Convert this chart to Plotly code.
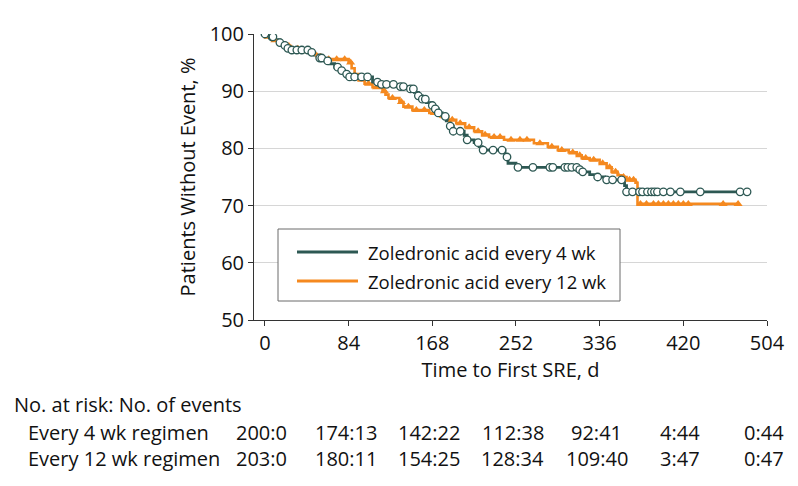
import numpy as np
import plotly.graph_objects as go

# ---------------- data ----------------
x_ticks = [0, 84, 168, 252, 336, 420, 504]
y_ticks = [50, 60, 70, 80, 90, 100]

# Every 4 wk: Kaplan-Meier step curve (day, % without event)
q4_time = [0, 6, 10, 15, 19, 23, 27, 45, 50, 55, 60, 65, 70, 75, 80, 85, 108, 116, 133,
           145, 150, 154, 158, 162, 166, 170, 174, 178, 182, 186, 189, 200, 203, 210,
           215, 218, 241, 244, 252, 314, 318, 326, 333, 341, 359, 361, 363, 484]
q4_surv = [100, 99.5, 99.0, 98.5, 98.0, 97.5, 97.2, 96.8, 96.3, 95.8, 95.3, 94.8, 94.2,
           93.6, 93.0, 92.5, 91.6, 91.2, 90.8, 90.4, 89.8, 89.2, 88.6, 88.0, 87.5, 86.9,
           86.2, 85.6, 84.8, 83.9, 83.0, 82.3, 81.5, 81.0, 80.3, 79.7, 78.5, 77.4, 76.7,
           76.3, 75.9, 75.4, 75.0, 74.5, 74.0, 73.5, 72.4, 72.4]
q4_censor = [0, 7, 8, 15, 20, 23, 27, 32, 37, 43, 47, 55, 57, 63, 73, 77, 82, 85, 90, 97,
             103, 113, 117, 122, 129, 136, 139, 146, 149, 154, 158, 161, 168, 171, 174,
             181, 186, 189, 196, 203, 214, 219, 229, 238, 243, 254, 269, 286, 289, 301,
             304, 308, 313, 316, 319, 334, 343, 349, 358, 363, 369, 376, 379, 384, 388,
             391, 394, 400, 407, 417, 437, 477, 484]

# Every 12 wk
q12_time = [0, 2, 8, 14, 20, 26, 40, 46, 52, 58, 84, 87, 90, 94, 100, 108, 118, 121, 124,
            135, 139, 148, 165, 176, 184, 192, 201, 210, 218, 225, 240, 270, 284, 294,
            305, 313, 318, 326, 336, 343, 348, 354, 358, 363, 372, 374, 475]
q12_surv = [100, 99.5, 98.9, 98.4, 97.9, 97.4, 97.0, 96.5, 96.0, 95.6, 95.0, 94.0, 93.0,
            92.0, 91.3, 90.7, 90.0, 89.4, 88.8, 88.1, 87.3, 86.7, 86.2, 85.6, 85.0, 84.4,
            83.7, 83.0, 82.4, 82.0, 81.5, 80.9, 80.3, 79.7, 79.3, 78.8, 78.3, 78.0, 77.4,
            76.7, 75.9, 75.3, 75.0, 74.5, 74.0, 70.3, 70.3]
q12_censor = [3, 10, 17, 24, 33, 44, 50, 56, 64, 72, 80, 86, 97, 104, 112, 120, 128, 137,
              144, 152, 160, 170, 180, 188, 196, 205, 214, 221, 230, 236, 247, 256, 263,
              276, 288, 298, 309, 316, 322, 330, 339, 346, 352, 360, 366, 370, 377, 383,
              390, 395, 400, 405, 410, 415, 420, 425, 460, 475]

risk_label_q4 = "Every 4 wk regimen"
risk_label_q12 = "Every 12 wk regimen"
risk_q4 = ["200:0", "174:13", "142:22", "112:38", "92:41", "4:44", "0:44"]
risk_q12 = ["203:0", "180:11", "154:25", "128:34", "109:40", "3:47", "0:47"]

name_q4 = "Zoledronic acid every 4 wk"
name_q12 = "Zoledronic acid every 12 wk"

# ---------------- style ----------------
TEAL = "#2d5853"
ORANGE = "#f5891f"
FONT = "Open Sans"
FS = 20
FS_LEG = 18.5
OFF = 8                      # page body margin
W, H = 798 - OFF, 486 - OFF  # figure size so it fits the window
L, R, T, B = 254, 767, 34, 320  # plot area in page pixels


def px(x):
    return (x - L) / (R - L)


def py(y):
    return (B - y) / (B - T)


def step_value(times, surv, t):
    i = np.searchsorted(np.asarray(times), t, side="right") - 1
    return np.asarray(surv)[np.clip(i, 0, len(surv) - 1)]


fig = go.Figure()
fig.add_trace(go.Scatter(x=q12_time, y=q12_surv, mode="lines", line_shape="hv",
                         line=dict(color=ORANGE, width=2.6), showlegend=False,
                         name=name_q12))
fig.add_trace(go.Scatter(x=q4_time, y=q4_surv, mode="lines", line_shape="hv",
                         line=dict(color=TEAL, width=2.8), showlegend=False,
                         name=name_q4))
fig.add_trace(go.Scatter(x=q12_censor, y=step_value(q12_time, q12_surv, q12_censor),
                         mode="markers", showlegend=False, name=name_q12 + " (censored)",
                         marker=dict(symbol="triangle-up", size=8, color=ORANGE,
                                     line=dict(width=0))))
fig.add_trace(go.Scatter(x=q4_censor, y=step_value(q4_time, q4_surv, q4_censor),
                         mode="markers", showlegend=False, name=name_q4 + " (censored)",
                         marker=dict(symbol="circle", size=7.5, color="white",
                                     line=dict(color=TEAL, width=1.3))))

shapes = []
annotations = []
tfont = dict(family=FONT, size=FS, color="#111")
lfont = dict(family=FONT, size=FS_LEG, color="#111")

# legend box (drawn manually)
shapes.append(dict(type="rect", xref="paper", yref="paper",
                   x0=px(278), x1=px(620), y0=py(301), y1=py(229),
                   line=dict(color="#6b6b6b", width=1), fillcolor="white", layer="above"))
for yy, col, txt in [(252, TEAL, name_q4), (281, ORANGE, name_q12)]:
    shapes.append(dict(type="line", xref="paper", yref="paper",
                       x0=px(297), x1=px(358), y0=py(yy), y1=py(yy),
                       line=dict(color=col, width=3), layer="above"))
    annotations.append(dict(xref="paper", yref="paper", x=px(366), y=py(yy),
                            text=txt, showarrow=False, xanchor="left", yanchor="middle",
                            font=lfont))

# at-risk table
annotations.append(dict(xref="paper", yref="paper", x=px(12), y=py(405),
                        text="No. at risk: No. of events", showarrow=False,
                        xanchor="left", yanchor="middle", font=tfont))
for yy, lab, vals in [(432, risk_label_q4, risk_q4), (458, risk_label_q12, risk_q12)]:
    annotations.append(dict(xref="paper", yref="paper", x=px(26), y=py(yy),
                            text=lab, showarrow=False, xanchor="left", yanchor="middle",
                            font=tfont))
    for t, v in zip(x_ticks, vals):
        annotations.append(dict(xref="x", yref="paper", x=t, y=py(yy), text=v,
                                showarrow=False, xanchor="center", yanchor="middle",
                                xshift=-3, font=tfont))

fig.update_layout(
    width=W, height=H,
    margin=dict(l=L - OFF, r=W - (R - OFF), t=T - OFF, b=H - (B - OFF)),
    paper_bgcolor="white", plot_bgcolor="white",
    font=tfont,
    showlegend=False,
    shapes=shapes, annotations=annotations,
    xaxis=dict(range=[-11, 504], tickvals=x_ticks, ticktext=[str(v) for v in x_ticks],
               showgrid=False, zeroline=False, showline=True, linecolor="#333",
               linewidth=1, ticks="outside", ticklen=5, tickcolor="#333",
               tickfont=tfont,
               title=dict(text="Time to First SRE, d", standoff=2, font=tfont)),
    yaxis=dict(range=[50, 100], tickvals=y_ticks, showgrid=True, gridcolor="#d6d6d6",
               gridwidth=1, zeroline=False, showline=True, linecolor="#333",
               linewidth=1, ticks="outside", ticklen=5, tickcolor="#333",
               tickfont=tfont,
               title=dict(text="Patients Without Event, %", standoff=8, font=tfont)),
)

fig.write_html("out.html")
